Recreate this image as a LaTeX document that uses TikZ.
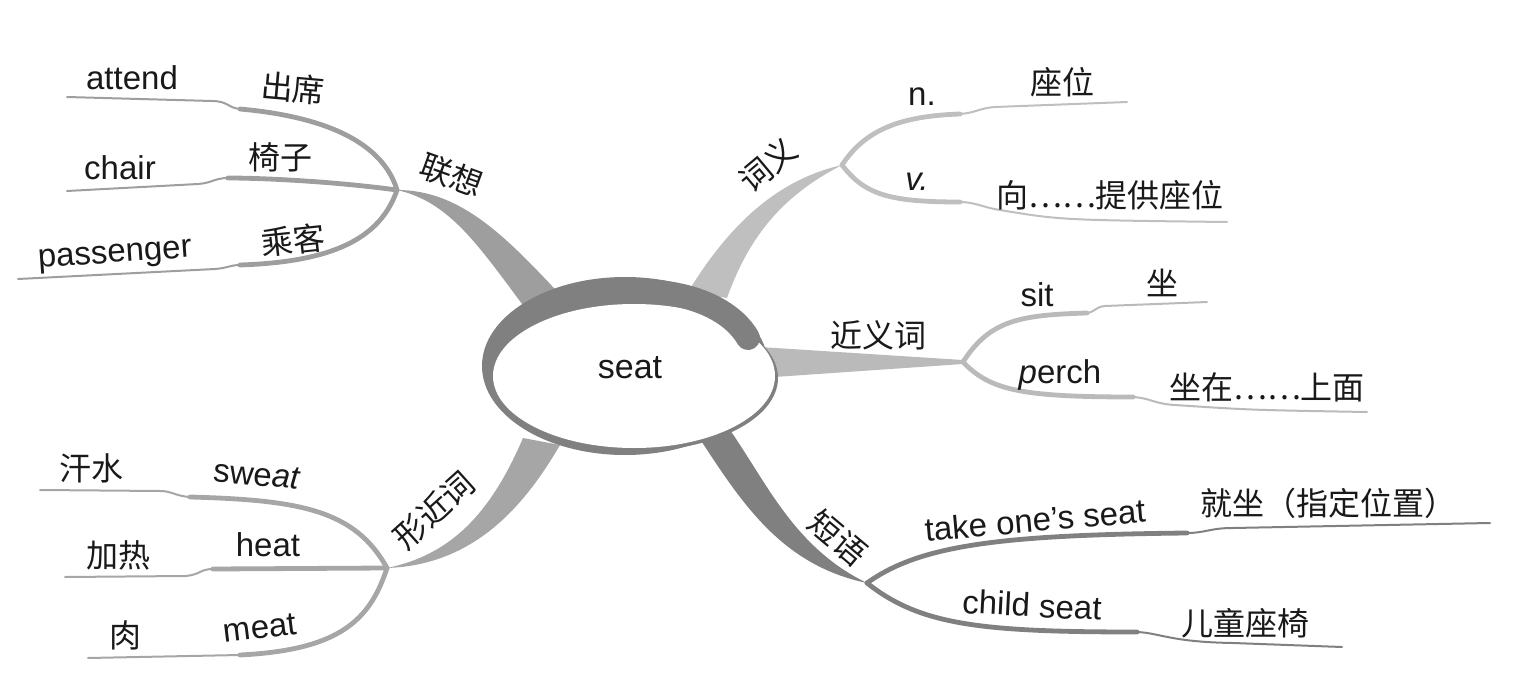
\documentclass[tikz,border=0pt]{standalone}
\usepackage{fontspec}
\setmainfont{Liberation Sans}
\newfontfamily\cjk{Noto Sans CJK SC}

\begin{document}
\begin{tikzpicture}[x=0.5pt, y=-0.5pt,
  en/.style={inner sep=0pt, text=black!90, font=\fontsize{16.5}{18}\selectfont},
  zh/.style={inner sep=0pt, text=black!90, font=\cjk\fontsize{16}{18}\selectfont},
  bough/.style={line width=2.4pt, line cap=round},
  twig/.style={line width=1pt, line cap=round},
  lx/.style={black!38}, cy/.style={black!25}, jy/.style={black!27},
  xj/.style={black!35}, dy/.style={black!50}, ring/.style={black!50}]
  \useasboundingbox (0,0) rectangle (1517,696);
  \coordinate (jl) at (397,190);
  \coordinate (jc) at (842,165);
  \coordinate (jj) at (963,362);
  \coordinate (jx) at (387,568);
  \coordinate (jd) at (867,583);

  \fill[lx] (jl) .. controls (460,190) and (505,235) .. (565,300) -- (528,312) .. controls (478,245) and (450,202) .. (jl);
  \fill[cy] (688,292) .. controls (735,215) and (785,178) .. (jc) .. controls (790,192) and (752,228) .. (727,298) -- cycle;
  \fill[jy] (760,347) -- (963,360) -- (963,364) -- (760,378) -- cycle;
  \fill[xj] (523,438) .. controls (490,515) and (450,555) .. (jx) .. controls (475,565) and (525,505) .. (560,445) -- cycle;
  \fill[dy] (698,436) .. controls (740,500) and (780,565) .. (jd) .. controls (795,548) and (768,485) .. (730,430) -- cycle;

  \fill[ring] (637,378) ellipse [x radius=141, y radius=73];
  \fill[ring] (625,366) ellipse [x radius=143, y radius=89];
  \fill[white] (634,376) ellipse [x radius=141, y radius=72];
  \draw[ring, line width=12pt, line cap=round] (640,291) .. controls (700,292) and (735,315) .. (748,338);
  \node[en, font=\fontsize{17}{18}\selectfont] (seat) at (630,368) {seat};

  \draw[lx, bough] (jl) .. controls (385,150) and (340,118) .. (240,109);
  \draw[lx, twig] (240,109) .. controls (228,108) and (228,101) .. (212,101) -- (67,97);
  \draw[lx, bough] (jl) .. controls (330,181) and (260,178) .. (228,178);
  \draw[lx, twig] (228,178) .. controls (215,178) and (212,183) .. (198,184) -- (67,191);
  \draw[lx, bough] (jl) .. controls (380,240) and (330,262) .. (240,265);
  \draw[lx, twig] (240,265) .. controls (230,265) and (228,268) .. (215,269) -- (18,279);
  \node[zh, rotate=-20] (lianxiang) at (452,175) {联想};
  \node[en] (attend) at (132,78) {attend};
  \node[zh, rotate=-5] (chuxi) at (293,88) {出席};
  \node[en] (chair) at (120,168) {chair};
  \node[zh] (yizi) at (280,157) {椅子};
  \node[en, rotate=4] (passenger) at (115,257) {passenger};
  \node[zh, rotate=6] (chengke) at (293,240) {乘客};

  \draw[cy, bough] (jc) .. controls (865,130) and (900,116) .. (960,114);
  \draw[cy, twig] (960,114) .. controls (975,113) and (980,108) .. (995,107) -- (1127,102);
  \draw[cy, bough] (jc) .. controls (865,195) and (890,202) .. (960,202);
  \draw[cy, twig] (960,202) .. controls (975,202) and (985,208) .. (1000,210) .. controls (1060,220) .. (1227,222);
  \node[zh, rotate=40] (ciyi) at (768,165) {词义};
  \node[en] (noun) at (922,97) {n.};
  \node[zh] (zuowei) at (1062,82) {座位};
  \node[en] (verb) at (917,182) {\textit{v.}};
  \node[zh] (tigong) at (1110,195) {向⋯⋯提供座位};

  \draw[jy, bough] (jj) .. controls (990,320) and (1020,315) .. (1087,313);
  \draw[jy, twig] (1087,313) .. controls (1095,312) and (1095,307) .. (1105,306) -- (1207,302);
  \draw[jy, bough] (jj) .. controls (990,390) and (1020,397) .. (1133,397);
  \draw[jy, twig] (1133,397) .. controls (1150,398) and (1155,404) .. (1175,405) .. controls (1250,410) .. (1367,412);
  \node[zh] (jinyici) at (878,335) {近义词};
  \node[en] (sit) at (1037,295) {sit};
  \node[zh] (zuo) at (1162,283) {坐};
  \node[en] (perch) at (1060,375) {\textit{p}erch};
  \node[zh] (zuozai) at (1267,387) {坐在⋯⋯上面};

  \draw[xj, bough] (jx) .. controls (355,510) and (300,500) .. (190,497);
  \draw[xj, twig] (190,497) .. controls (175,496) and (172,491) .. (160,491) -- (40,490);
  \draw[xj, bough] (jx) -- (213,569);
  \draw[xj, twig] (213,569) .. controls (200,569) and (200,575) .. (185,576) -- (65,577);
  \draw[xj, bough] (jx) .. controls (370,620) and (340,650) .. (240,655);
  \draw[xj, twig] (240,655) -- (88,658);
  \node[zh, rotate=42] (xingjinci) at (434,510) {形近词};
  \node[zh] (hanshui) at (92,468) {汗水};
  \node[en, rotate=-5] (sweat) at (257,475) {swe\textit{at}};
  \node[zh] (jiare) at (118,555) {加热};
  \node[en] (heat) at (268,545) {heat};
  \node[zh] (rou) at (125,635) {肉};
  \node[en, rotate=7] (meat) at (260,628) {meat};

  \draw[dy, bough] (jd) .. controls (920,545) and (1000,535) .. (1187,533);
  \draw[dy, twig] (1187,533) .. controls (1205,533) and (1210,528) .. (1233,528) -- (1490,523);
  \draw[dy, bough] (jd) .. controls (920,625) and (980,632) .. (1137,632);
  \draw[dy, twig] (1137,632) .. controls (1160,633) and (1170,642) .. (1233,643) -- (1342,647);
  \node[zh, rotate=-40] (duanyu) at (838,538) {短语};
  \node[en, rotate=5] (takeseat) at (1035,520) {take one's seat};
  \node[zh] (jiuzuo) at (1328,503) {就坐（指定位置）};
  \node[en, rotate=-3] (childseat) at (1032,605) {child seat};
  \node[zh] (ertong) at (1245,623) {儿童座椅};
\end{tikzpicture}
\end{document}
